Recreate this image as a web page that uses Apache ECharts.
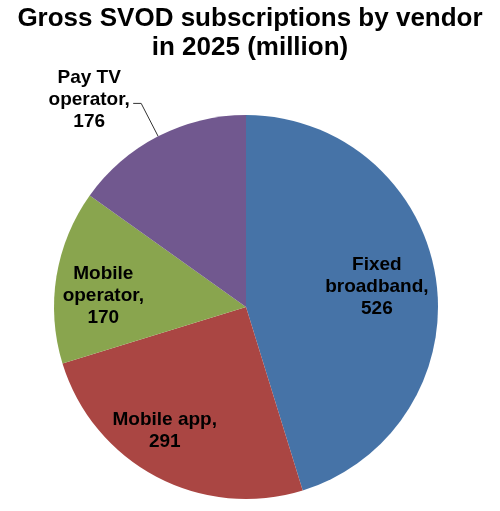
<!DOCTYPE html>
<html>
<head>
<meta charset="utf-8">
<script src="https://cdn.jsdelivr.net/npm/echarts@6/dist/echarts.min.js"></script>
<style>
html,body{margin:0;padding:0;background:#fff;}
#c{width:500px;height:511px;}
</style>
</head>
<body>
<div id="c"></div>
<script>
var categories = ['Fixed broadband', 'Mobile app', 'Mobile operator', 'Pay TV operator'];
var labelNames = ['Fixed\nbroadband', 'Mobile app', 'Mobile\noperator', 'Pay TV\noperator'];
var values = [526, 291, 170, 176];
var colors = ['#4673A7', '#AA4643', '#89A54E', '#71588F'];

var labelOffsets = [[33, -5], [-35, 36], [-45, 5], [0, 0]];

var data = categories.map(function (c, i) {
  var item = { name: c, value: values[i], itemStyle: { color: colors[i] } };
  if (i === 3) {
    item.label = {
      position: 'outside',
      formatter: labelNames[i].split('\n').map(function (s, k, arr) {
        return '{a|' + s + (k === arr.length - 1 ? ',' : '') + '}';
      }).join('\n') + '\n{a|' + values[i] + '}',
      distanceToLabelLine: 3,
      padding: [0, 0, 8, 0],
      rich: { a: { width: 82, align: 'center', fontSize: 19, fontWeight: 'bold', fontFamily: 'Liberation Sans, Arial, sans-serif', color: '#000', lineHeight: 22 } }
    };
    item.labelLine = { show: true, length: 37, length2: 8, lineStyle: { color: '#333', width: 1 } };
  } else {
    item.label = { position: 'inside', formatter: labelNames[i] + ',\n' + values[i] };
    item.labelLine = { show: false };
  }
  return item;
});

var chart = echarts.init(document.getElementById('c'), null, { renderer: 'canvas' });
chart.setOption({
  animation: false,
  backgroundColor: '#fff',
  title: {
    text: 'Gross SVOD subscriptions by vendor\nin 2025 (million)',
    left: 'center',
    top: 4,
    padding: 0,
    textStyle: { fontFamily: 'Liberation Sans, Arial, sans-serif', fontWeight: 'bold', fontSize: 26, lineHeight: 29, color: '#000' }
  },
  series: [{
    type: 'pie',
    center: [246, 307],
    radius: 192,
    startAngle: 90,
    clockwise: true,
    avoidLabelOverlap: false,
    label: {
      show: true,
      fontFamily: 'Liberation Sans, Arial, sans-serif',
      fontWeight: 'bold',
      fontSize: 19,
      lineHeight: 22,
      color: '#000',
      align: 'center'
    },
    labelLayout: function (p) {
      var o = labelOffsets[p.dataIndex];
      return { dx: o[0], dy: o[1] };
    },
    emphasis: { disabled: true },
    data: data
  }]
});
</script>
</body>
</html>
